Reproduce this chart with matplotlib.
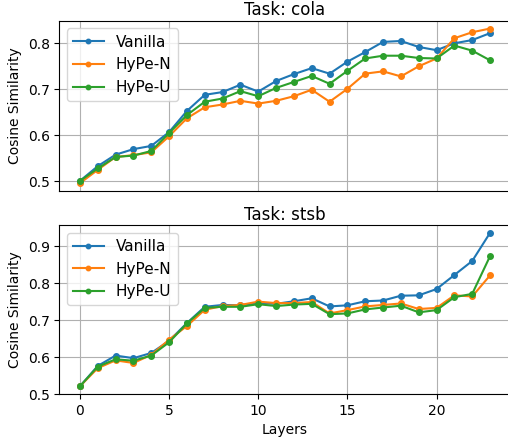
import numpy as np
import matplotlib
matplotlib.use("Agg")
import matplotlib.pyplot as plt

layers = np.arange(24)

# Task: cola
cola_vanilla = [0.501, 0.533, 0.558, 0.570, 0.577, 0.607, 0.653, 0.688, 0.694, 0.710,
                0.695, 0.718, 0.733, 0.746, 0.734, 0.760, 0.781, 0.803, 0.805, 0.792,
                0.785, 0.800, 0.807, 0.822]
cola_hype_n = [0.496, 0.525, 0.553, 0.557, 0.563, 0.598, 0.637, 0.661, 0.667, 0.675,
               0.669, 0.675, 0.685, 0.699, 0.673, 0.701, 0.734, 0.739, 0.728, 0.750,
               0.767, 0.811, 0.824, 0.832]
cola_hype_u = [0.501, 0.528, 0.553, 0.556, 0.566, 0.605, 0.644, 0.673, 0.680, 0.696,
               0.685, 0.703, 0.716, 0.729, 0.712, 0.740, 0.767, 0.773, 0.773, 0.768,
               0.767, 0.795, 0.784, 0.763]

# Task: stsb
stsb_vanilla = [0.521, 0.576, 0.604, 0.597, 0.611, 0.644, 0.692, 0.736, 0.741, 0.740,
                0.746, 0.744, 0.751, 0.759, 0.737, 0.740, 0.751, 0.753, 0.766, 0.767,
                0.784, 0.822, 0.860, 0.936]
stsb_hype_n = [0.521, 0.570, 0.591, 0.584, 0.606, 0.647, 0.684, 0.728, 0.738, 0.741,
               0.750, 0.746, 0.746, 0.749, 0.718, 0.727, 0.737, 0.741, 0.745, 0.730,
               0.733, 0.767, 0.764, 0.821]
stsb_hype_u = [0.521, 0.574, 0.594, 0.590, 0.604, 0.640, 0.691, 0.733, 0.736, 0.736,
               0.743, 0.738, 0.742, 0.744, 0.716, 0.718, 0.729, 0.734, 0.739, 0.721,
               0.727, 0.762, 0.771, 0.873]

tareas = [("cola", cola_vanilla, cola_hype_n, cola_hype_u),
          ("stsb", stsb_vanilla, stsb_hype_n, stsb_hype_u)]

fig = plt.figure(figsize=(5.08, 4.43), dpi=100)
ax1 = fig.add_axes([0.117, 0.569, 0.888, 0.384])
ax2 = fig.add_axes([0.117, 0.1106, 0.888, 0.381], sharex=ax1)

for ax, (nombre, v, hn, hu) in zip([ax1, ax2], tareas):
    ax.plot(layers, v, marker='o', markersize=4, label='Vanilla')
    ax.plot(layers, hn, marker='o', markersize=4, label='HyPe-N')
    ax.plot(layers, hu, marker='o', markersize=4, label='HyPe-U')
    ax.set_title(f'Task: {nombre}', fontsize=12, pad=4)
    ax.set_ylabel('Cosine Similarity')
    ax.grid(True)
    ax.legend(loc='upper left', fontsize=11, markerscale=0.8)

# panel superior sin marcas en x
ax1.tick_params(axis='x', length=0, labelbottom=False)
ax2.set_ylim(bottom=0.5)
ax2.set_xlabel('Layers')

fig.savefig('out.png', dpi=100)
